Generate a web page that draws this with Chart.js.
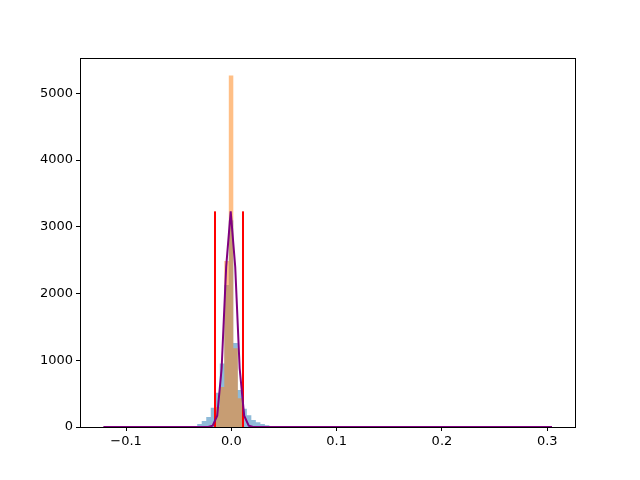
<!DOCTYPE html>
<html>
<head>
<meta charset="utf-8">
<script src="https://cdn.jsdelivr.net/npm/chart.js@4/dist/chart.umd.min.js"></script>
<style>
    html, body { margin: 0; padding: 0; background: #fff; }
    #wrap { width: 640px; height: 480px; }
</style>
</head>
<body>
<div id="wrap"><canvas id="chart" width="640" height="480"></canvas></div>
<script>
// histogram bin edges (same bins for both histograms)
const binEdges = [-0.04522, -0.04094, -0.03666, -0.03238, -0.02810, -0.02381, -0.01953, -0.01525,
    -0.01097, -0.00669, -0.00240, 0.00188, 0.00616, 0.01044, 0.01472, 0.01900, 0.02329,
    0.02757, 0.03185, 0.03613, 0.04041, 0.04470, 0.04898];
// counts per bin (one less than edges)
const blueCounts = [0, 0, 8, 45, 90, 150, 290, 513, 950, 2127, 3100, 1260, 556, 275, 175, 105,
    70, 45, 25, 12, 5, 0];
const orangeCounts = [0, 0, 0, 0, 0, 0, 0, 300, 600, 2487, 5267, 1180, 430, 0, 0, 0,
    0, 0, 0, 0, 0, 0];

// fitted curve (purple)
const fitX = [-0.1215, -0.0220, -0.0177, -0.0134, -0.0092, -0.0049, -0.0006,
    0.0037, 0.0079, 0.0122, 0.0165, 0.0208, 0.3045];
const fitY = [0, 0, 20, 170, 880, 2400, 3232, 2400, 880, 170, 20, 0, 0];

// red cut lines
const cutX = [-0.0155, 0.0111];
const cutTop = 3232;

const xTicks = [-0.1, 0.0, 0.1, 0.2, 0.3];
const yTicks = [0, 1000, 2000, 3000, 4000, 5000];

function stepPoints(edges, counts) {
    const pts = [{ x: edges[0], y: 0 }];
    counts.forEach((c, i) => pts.push({ x: edges[i], y: c }));
    pts.push({ x: edges[edges.length - 1], y: 0 });
    return pts;
}

function fmtX(v) {
    if (Math.abs(v) < 1e-9) v = 0;
    return v.toFixed(1).replace('-', '\u2212');
}

// box around the plot, bottom edge sits just under the plot area
const frame = {
    id: 'frame',
    afterDraw(chart) {
        const { ctx, chartArea: a } = chart;
        const l = Math.round(a.left) + 0.5, r = Math.round(a.right) - 0.5;
        const t = Math.round(a.top) + 0.5, b = Math.round(a.bottom) + 0.5;
        ctx.save();
        ctx.strokeStyle = '#000';
        ctx.lineWidth = 1;
        ctx.strokeRect(l, t, r - l, b - t);
        ctx.restore();
    }
};

const font = { family: 'DejaVu Sans', size: 13 };

const datasets = [
    {
        data: fitX.map((x, i) => ({ x: x, y: fitY[i] })),
        borderColor: '#800080',
        borderWidth: 2,
        pointRadius: 0,
        fill: false,
        order: 0
    },
    ...cutX.map(x => ({
        data: [{ x: x, y: 0 }, { x: x, y: cutTop }],
        borderColor: '#ff0000',
        borderWidth: 2,
        pointRadius: 0,
        fill: false,
        order: 1
    })),
    {
        data: stepPoints(binEdges, orangeCounts),
        stepped: true,
        borderWidth: 0,
        borderColor: 'rgba(0,0,0,0)',
        backgroundColor: 'rgba(255, 127, 14, 0.5)',
        pointRadius: 0,
        fill: 'origin',
        order: 2
    },
    {
        data: stepPoints(binEdges, blueCounts),
        stepped: true,
        borderWidth: 0,
        borderColor: 'rgba(0,0,0,0)',
        backgroundColor: 'rgba(31, 119, 180, 0.5)',
        pointRadius: 0,
        fill: 'origin',
        order: 3
    }
];

new Chart(document.getElementById('chart'), {
    type: 'line',
    data: { datasets: datasets },
    plugins: [frame],
    options: {
        responsive: false,
        animation: false,
        events: [],
        layout: { padding: { left: 0, right: 64, top: 58, bottom: 0 } },
        plugins: { legend: { display: false }, tooltip: { enabled: false } },
        scales: {
            x: {
                type: 'linear',
                min: -0.1437,
                max: 0.3273,
                afterBuildTicks: s => { s.ticks = xTicks.map(v => ({ value: v })); },
                afterFit: s => { s.height = 53; },
                ticks: { color: '#000', font: font, padding: 3, maxRotation: 0, callback: v => fmtX(v) },
                grid: { drawOnChartArea: false, tickLength: 4, tickColor: '#000' },
                border: { display: false }
            },
            y: {
                type: 'linear',
                min: 0,
                max: 5530,
                afterBuildTicks: s => { s.ticks = yTicks.map(v => ({ value: v })); },
                afterFit: s => { s.width = 80; },
                ticks: { color: '#000', font: font, padding: 3, callback: v => String(v) },
                grid: { drawOnChartArea: false, tickLength: 4, tickColor: '#000' },
                border: { display: false }
            }
        }
    }
});
</script>
</body>
</html>
